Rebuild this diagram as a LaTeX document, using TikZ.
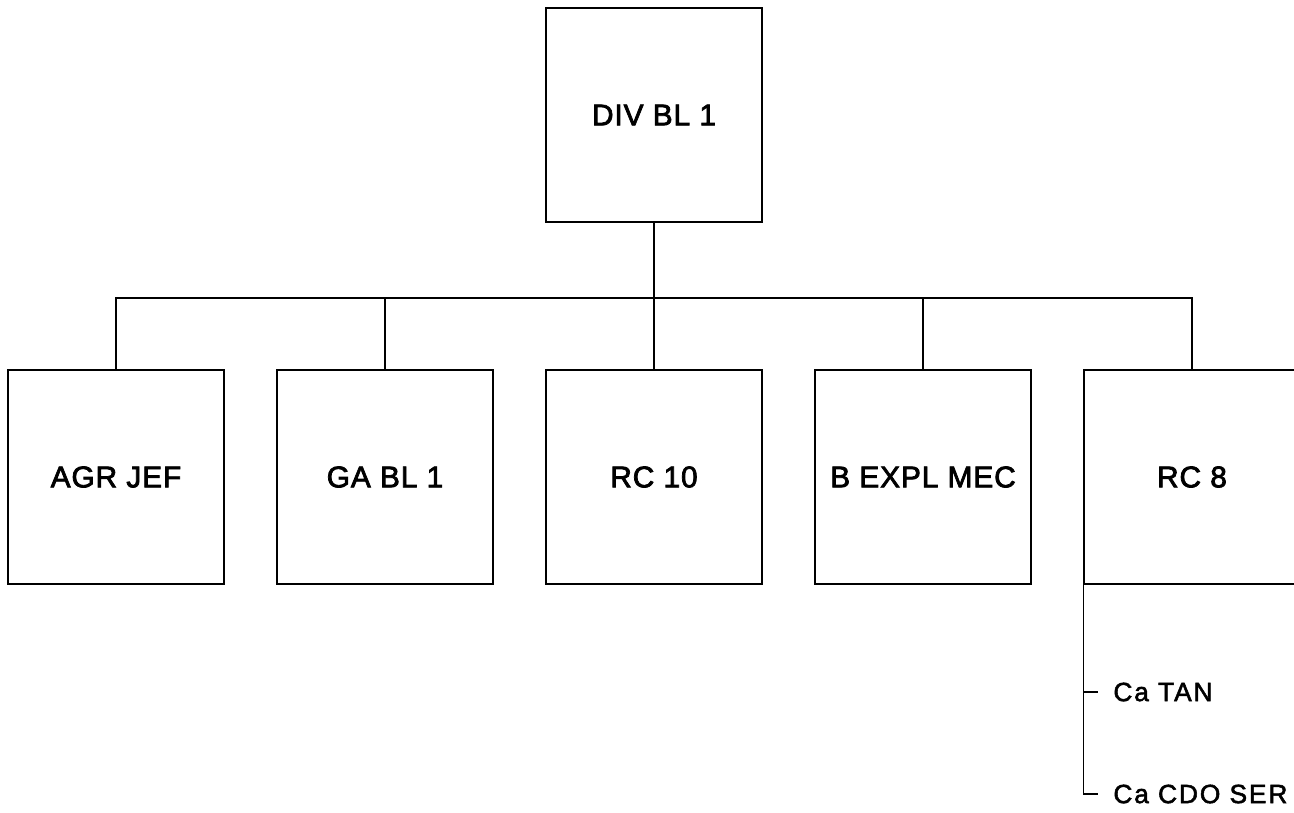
\documentclass[tikz,border=0pt]{standalone}
\usepackage{fontspec}
\setmainfont{Liberation Sans}
\newfontfamily\unitfont[FakeBold=2.5, LetterSpace=3]{Liberation Sans}
\newfontfamily\subfont[FakeBold=2, LetterSpace=7]{Liberation Sans}
\usetikzlibrary{positioning}
\begin{document}
\begin{tikzpicture}[x=0.02cm, y=-0.02cm,
		unit/.style={draw, minimum width=4.32cm, minimum height=4.28cm, inner sep=0pt, font=\unitfont\fontsize{17}{20}\selectfont},
		sub/.style={anchor=west, font=\subfont\fontsize{15}{18}\selectfont},
		every path/.style={line width=0.65pt}]
			\useasboundingbox (0,0) rectangle (1294,812);

			% division
			\node[unit] (div) at (654,115) {DIV BL 1};

			% subordinate units
			\node[unit] (agr)	at (116,477)	{AGR JEF};
			\node[unit] (gabl)	at (385,477)	{GA BL 1};
			\node[unit] (rcten)	at (654,477)	{RC 10};
			\node[unit] (bexpl)	at (923,477)	{B EXPL MEC};
			\node[unit] (rceight)	at (1192,477)	{RC 8};

			% connectors
			\coordinate (bus) at (654,298);
			\draw	(div.south) -- (rcten.north);
			\draw	(agr.north) |- (bus) -| (rceight.north);
			\draw	(gabl.north) -- (gabl.north |- bus)
					(bexpl.north) -- (bexpl.north |- bus);

			% companies of RC 8
			\coordinate (tantick) at (1098,692);
			\coordinate (sertick) at (1098,794);
			\node[sub, right=0.18cm of tantick] (tan) {Ca TAN};
			\node[sub, right=0.18cm of sertick] (ser) {Ca CDO SER};
			\draw	(rceight.south west) |- (sertick)
					(rceight.south west |- tantick) -- (tantick);
\end{tikzpicture}
\end{document}
